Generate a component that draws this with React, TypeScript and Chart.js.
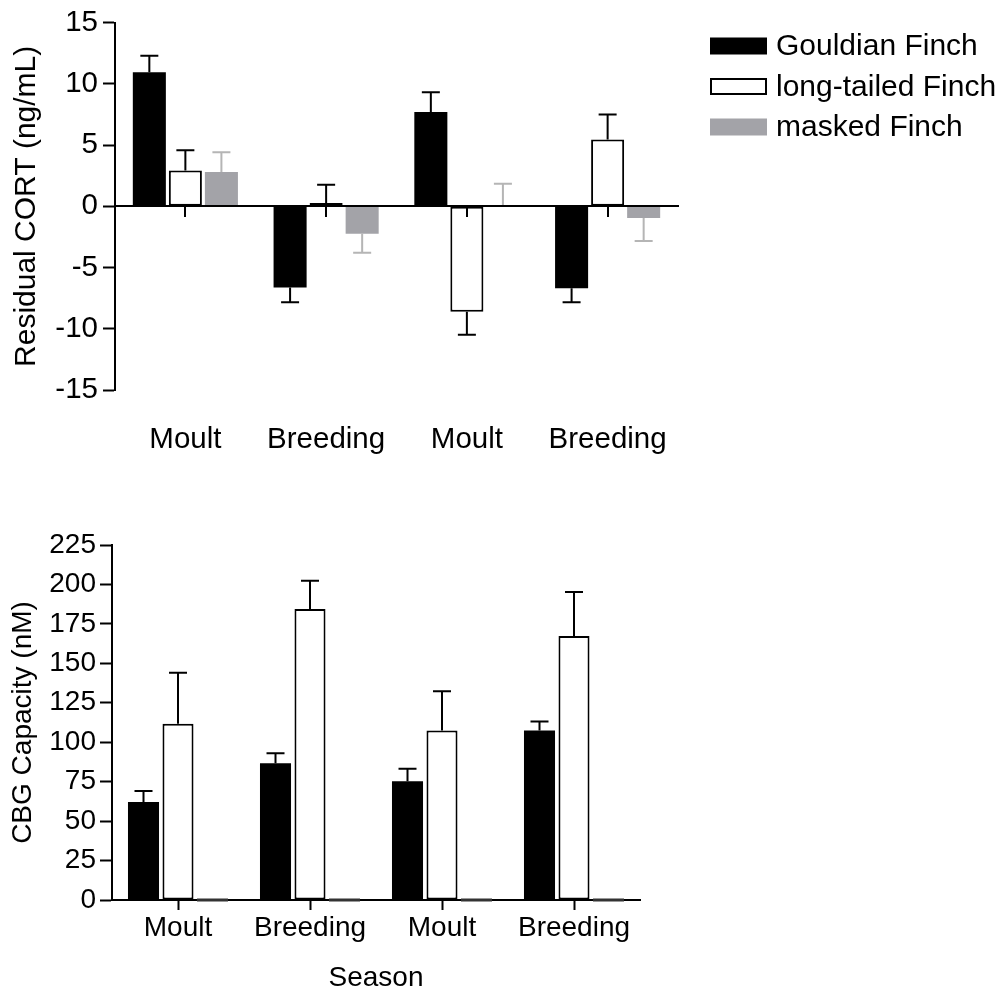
import React, { useEffect, useRef } from 'react';
import { Chart, registerables } from 'chart.js';

Chart.register(...registerables);

const FONT = "'Liberation Sans', Arial, Helvetica, sans-serif";

// ---- data ----
const categories = ['Moult', 'Breeding', 'Moult', 'Breeding'];
const seriesNames = ['Gouldian Finch', 'long-tailed Finch', 'masked Finch'];

const gouldianCort = [10.95, -6.62, 7.7, -6.68];
const gouldianCortErr = [1.35, 1.22, 1.62, 1.16];
const longTailedCort = [2.92, 0.27, -8.6, 5.46];
const longTailedCortErr = [1.67, 1.49, 1.89, 2.05];
const maskedCort = [2.81, -2.23, 0, -0.95];
const maskedCortErr = [1.6, 1.55, 1.84, 1.89];

const gouldianCbg = [62.1, 86.6, 75.2, 107.5];
const gouldianCbgErr = [7.0, 6.4, 8.0, 5.7];
const longTailedCbg = [111.7, 184.5, 107.5, 167.3];
const longTailedCbgErr = [32.3, 17.9, 24.8, 27.9];
const maskedCbg = [0, 0, 0, 0];
const maskedCbgErr = [0, 0, 0, 0];

const cortRange = { min: -15, max: 15, step: 5 };
const cbgRange = { min: 0, max: 225, step: 25 };

// ---- styles ----
const BLACK = '#000000';
const GRAY = '#a3a3a8';
const LIGHT_GRAY = '#b5b5b5';

const errorBarPlugin = {
  id: 'errorBars',
  afterDatasetsDraw(chart: any) {
    const ctx = chart.ctx;
    const yScale = chart.scales.y;
    chart.data.datasets.forEach((ds: any, di: number) => {
      const meta = chart.getDatasetMeta(di);
      meta.data.forEach((bar: any, i: number) => {
        const v = ds.data[i];
        const e = ds.errors ? ds.errors[i] : 0;
        const x = bar.x;
        ctx.save();
        if (ds.zeroLineColor && v === 0) {
          const w = bar.width;
          const yz = yScale.getPixelForValue(0);
          ctx.strokeStyle = ds.zeroLineColor;
          ctx.lineWidth = 3;
          ctx.beginPath();
          ctx.moveTo(x - w / 2, yz);
          ctx.lineTo(x + w / 2, yz);
          ctx.stroke();
        }
        if (e) {
          const y0 = yScale.getPixelForValue(v);
          const y1 = yScale.getPixelForValue(v >= 0 ? v + e : v - e);
          const cap = 18;
          ctx.strokeStyle = ds.errorColor || BLACK;
          ctx.lineWidth = 2;
          ctx.beginPath();
          ctx.moveTo(x, y0);
          ctx.lineTo(x, y1);
          ctx.moveTo(x - cap / 2, y1);
          ctx.lineTo(x + cap / 2, y1);
          ctx.stroke();
        }
        ctx.restore();
      });
    });
  },
};

const zeroAxisPlugin = {
  id: 'zeroAxis',
  afterDatasetsDraw(chart: any, _args: any, opts: any) {
    if (!opts || !opts.enabled) return;
    const { ctx, chartArea } = chart;
    const xs = chart.scales.x;
    const ys = chart.scales.y;
    const y0 = Math.round(ys.getPixelForValue(0));
    ctx.save();
    ctx.strokeStyle = BLACK;
    ctx.lineWidth = 2;
    ctx.beginPath();
    ctx.moveTo(chartArea.left, y0);
    ctx.lineTo(chartArea.right + 1, y0);
    chart.data.labels.forEach((_l: any, i: number) => {
      const px = Math.round(xs.getPixelForValue(i));
      ctx.moveTo(px, y0);
      ctx.lineTo(px, y0 + 11);
    });
    ctx.stroke();
    ctx.restore();
  },
};

const legendPlugin = {
  id: 'customLegend',
  afterDraw(chart: any, _args: any, opts: any) {
    if (!opts || !opts.enabled) return;
    const ctx = chart.ctx;
    const bx = 710, bw = 57, bh = 17, y0 = 46, gap = 40.5, tx = 776;
    ctx.save();
    ctx.font = `30px ${FONT}`;
    ctx.textBaseline = 'middle';
    ctx.textAlign = 'left';
    chart.data.datasets.forEach((ds: any, i: number) => {
      const cy = y0 + i * gap;
      ctx.fillStyle = ds.backgroundColor;
      ctx.fillRect(bx, cy - bh / 2, bw, bh);
      if (ds.borderWidth) {
        ctx.strokeStyle = ds.borderColor;
        ctx.lineWidth = 2;
        ctx.strokeRect(bx + 1, cy - bh / 2 + 1, bw - 2, bh - 2);
      }
      ctx.fillStyle = BLACK;
      ctx.fillText(ds.label, tx, cy + 1);
    });
    ctx.restore();
  },
};

function makeConfig(opts: {
  values: number[][];
  errors: number[][];
  range: { min: number; max: number; step: number };
  yTitle: string;
  yTitleSize: number;
  yTitlePad: number;
  tickSize: number;
  xPad: number;
  yWidth: number;
  xHeight: number;
  padTop: number;
  padRight: number;
  catPct: number;
  barPct: number;
  topPanel: boolean;
}) {
  const colors = [BLACK, '#ffffff', GRAY];
  const datasets = seriesNames.map((name, i) => ({
    label: name,
    data: opts.values[i],
    errors: opts.errors[i],
    errorColor: i === 2 ? LIGHT_GRAY : BLACK,
    zeroLineColor: !opts.topPanel && i === 2 ? '#333333' : undefined,
    backgroundColor: colors[i],
    borderColor: BLACK,
    borderWidth: i === 1 ? 2 : 0,
    borderSkipped: false,
    categoryPercentage: opts.catPct,
    barPercentage: opts.barPct,
  }));
  return {
    type: 'bar' as const,
    data: { labels: categories, datasets },
    options: {
      responsive: false,
      animation: false,
      devicePixelRatio: 1,
      layout: { padding: { top: opts.padTop, right: opts.padRight, left: 0, bottom: 0 } },
      plugins: {
        legend: { display: false },
        tooltip: { enabled: false },
        zeroAxis: { enabled: opts.topPanel },
        customLegend: { enabled: opts.topPanel },
      },
      scales: {
        x: {
          type: 'category',
          offset: true,
          grid: opts.topPanel
            ? { display: false, drawTicks: false }
            : {
                display: true,
                drawOnChartArea: false,
                drawTicks: true,
                offset: false,
                tickLength: 10,
                tickWidth: 2,
                tickColor: BLACK,
              },
          border: { display: !opts.topPanel, color: BLACK, width: 2 },
          ticks: {
            color: BLACK,
            font: { family: FONT, size: opts.tickSize },
            padding: opts.xPad,
            maxRotation: 0,
            autoSkip: false,
          },
          title: {
            display: !opts.topPanel,
            text: 'Season',
            color: BLACK,
            font: { family: FONT, size: 28 },
            padding: { top: 0, bottom: 0 },
          },
          afterFit: (s: any) => {
            s.height = opts.xHeight;
          },
        },
        y: {
          min: opts.range.min,
          max: opts.range.max,
          grid: {
            display: true,
            drawOnChartArea: false,
            drawTicks: true,
            tickLength: 12,
            tickWidth: 2,
            tickColor: BLACK,
          },
          border: { display: true, color: BLACK, width: 2 },
          ticks: {
            stepSize: opts.range.step,
            color: BLACK,
            font: { family: FONT, size: opts.tickSize },
            padding: opts.topPanel ? 5 : 4,
            callback: (v: any) => String(v),
          },
          title: {
            display: true,
            text: opts.yTitle,
            color: BLACK,
            font: { family: FONT, size: opts.yTitleSize },
            padding: { top: opts.yTitlePad, bottom: 0 },
          },
          afterFit: (s: any) => {
            s.width = opts.yWidth;
          },
        },
      },
    },
    plugins: [errorBarPlugin, zeroAxisPlugin, legendPlugin],
  };
}

export default function App() {
  const topRef = useRef<HTMLCanvasElement>(null);
  const botRef = useRef<HTMLCanvasElement>(null);

  useEffect(() => {
    const top = new Chart(
      topRef.current as HTMLCanvasElement,
      makeConfig({
        values: [gouldianCort, longTailedCort, maskedCort],
        errors: [gouldianCortErr, longTailedCortErr, maskedCortErr],
        range: cortRange,
        yTitle: 'Residual CORT (ng/mL)',
        yTitleSize: 30,
        yTitlePad: 9,
        tickSize: 29.5,
        xPad: 32,
        yWidth: 115,
        xHeight: 80,
        padTop: 20,
        padRight: 327,
        catPct: 0.768,
        barPct: 0.917,
        topPanel: true,
      }) as any
    );
    const bottom = new Chart(
      botRef.current as HTMLCanvasElement,
      makeConfig({
        values: [gouldianCbg, longTailedCbg, maskedCbg],
        errors: [gouldianCbgErr, longTailedCbgErr, maskedCbgErr],
        range: cbgRange,
        yTitle: 'CBG Capacity (nM)',
        yTitleSize: 28,
        yTitlePad: 6,
        tickSize: 28,
        xPad: 1,
        yWidth: 112,
        xHeight: 95,
        padTop: 75,
        padRight: 365,
        catPct: 0.784,
        barPct: 0.9,
        topPanel: false,
      }) as any
    );
    return () => {
      top.destroy();
      bottom.destroy();
    };
  }, []);

  return (
    <div style={{ position: 'absolute', left: 0, top: 0, width: 1005, height: 995, background: '#ffffff' }}>
      <canvas ref={topRef} width={1005} height={470} style={{ position: 'absolute', left: 0, top: 0 }} />
      <canvas ref={botRef} width={1005} height={525} style={{ position: 'absolute', left: 0, top: 470 }} />
    </div>
  );
}
